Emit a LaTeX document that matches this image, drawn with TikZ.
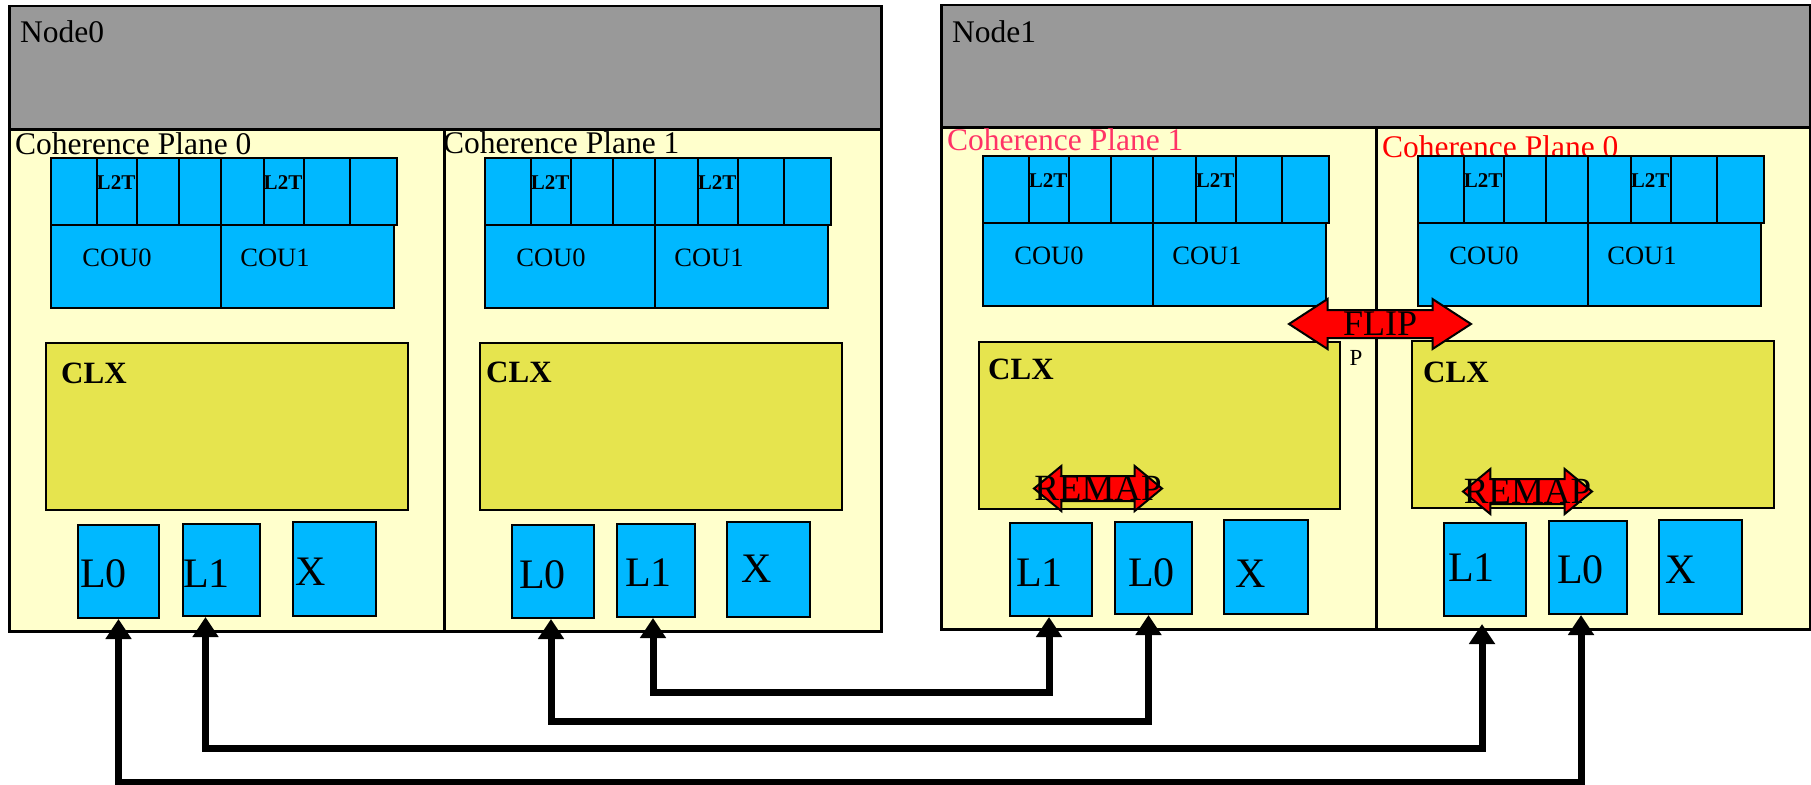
\documentclass[tikz,border=0pt]{standalone}
\usepackage{xcolor}
\usepackage{fontspec}
\setmainfont{Liberation Serif}
\usepackage{tikz}
\usetikzlibrary{shapes,arrows.meta,positioning}

\definecolor{headgray}{RGB}{153,153,153}
\definecolor{planeyellow}{RGB}{255,255,204}
\definecolor{cublue}{RGB}{0,184,255}
\definecolor{clxyellow}{RGB}{230,228,78}
\definecolor{planepink}{RGB}{255,51,102}

\tikzset{
  wh/.style 2 args={minimum width=#1pt, minimum height=#2pt},
  headbox/.style={draw, fill=headgray, line width=2.5pt, anchor=north west, inner sep=0pt},
  planebox/.style={draw, fill=planeyellow, line width=2.5pt, anchor=north west, inner sep=0pt},
  cellbox/.style={draw, fill=cublue, line width=2pt, anchor=north west, inner sep=0pt},
  clxbox/.style={draw, fill=clxyellow, line width=2pt, anchor=north west, inner sep=0pt},
  title/.style={anchor=base west, inner sep=0pt, font=\fontsize{31.5}{36}\selectfont},
  clxtext/.style={anchor=base west, inner sep=0pt, font=\fontsize{31}{36}\selectfont\bfseries},
  coutext/.style={inner sep=0pt, font=\fontsize{26.5}{30}\selectfont},
  l2ttext/.style={inner sep=0pt, font=\fontsize{21}{24}\selectfont\bfseries},
  porttext/.style={anchor=base west, inner sep=0pt, font=\fontsize{42}{48}\selectfont},
  swaparrow/.style={double arrow, draw, fill=red, line width=2pt, inner xsep=0pt},
  link/.style={line width=7pt, {Triangle[length=20pt,width=25pt]}-{Triangle[length=20pt,width=25pt]}}
}

\begin{document}
\begin{tikzpicture}[x=1pt, y=-1pt]
\useasboundingbox (0,0) rectangle (1811,784);

% Nodes
\node[headbox, wh={872}{123}] (n0head) at (8,5) {};
\node[planebox, wh={435}{502}] (n0p0) at (8,128) {};
\node[planebox, wh={437}{502}] (n0p1) at (443,128) {};
\node[title] (n0name) at (20,43) {Node0};
\node[title] (n0p0name) at (15,154) {Coherence Plane 0};
\node[title] (n0p1name) at (443,153) {Coherence Plane 1};

\node[headbox, wh={869}{122}] (n1head) at (940,4) {};
\node[planebox, wh={435}{502}] (n1p1) at (940,126) {};
\node[planebox, wh={434}{502}] (n1p0) at (1375,126) {};
\node[title] (n1name) at (952,42) {Node1};
\node[title, text=planepink] (n1p1name) at (947,150) {Coherence Plane 1};
\node[title, text=red] (n1p0name) at (1382,157) {Coherence Plane 0};

% L2T cells and COU units
\foreach \nm/\x/\y in {n0p0/50/157, n0p1/484/157, n1p1/982/155, n1p0/1417/155} {
  \foreach \i/\a/\b in {1/0/46, 2/46/86, 3/86/128, 4/128/170, 5/170/213, 6/213/253, 7/253/299, 8/299/346}
    \node[cellbox, minimum width={(\b-\a)*1pt}, minimum height=67pt] (\nm c\i) at ({\x+\a},\y) {};
  \node[cellbox, wh={170}{83}] (\nm cou0) at (\x,{\y+67}) {};
  \node[cellbox, wh={173}{83}] (\nm cou1) at ({\x+170},{\y+67}) {};
  \node[l2ttext] (\nm l2ta) at ({\x+66},{\y+26}) {L2T};
  \node[l2ttext] (\nm l2tb) at ({\x+233},{\y+26}) {L2T};
  \node[coutext] (\nm cou0t) at ({\x+67},{\y+101}) {COU0};
  \node[coutext] (\nm cou1t) at ({\x+225},{\y+101}) {COU1};
}

% CLX
\node[clxbox, wh={362}{167}] (n0p0clx) at (45,342) {};
\node[clxbox, wh={362}{167}] (n0p1clx) at (479,342) {};
\node[clxbox, wh={361}{167}] (n1p1clx) at (978,341) {};
\node[clxbox, wh={362}{167}] (n1p0clx) at (1411,340) {};
\node[clxtext] (n0p0clxt) at (61,383) {CLX};
\node[clxtext] (n0p1clxt) at (486,382) {CLX};
\node[clxtext] (n1p1clxt) at (988,379) {CLX};
\node[clxtext] (n1p0clxt) at (1423,382) {CLX};

% Ports
\node[cellbox, wh={81}{93}] (n0p0L0) at (77,524) {};
\node[cellbox, wh={77}{92}] (n0p0L1) at (182,523) {};
\node[cellbox, wh={83}{94}] (n0p0X) at (292,521) {};
\node[cellbox, wh={82}{93}] (n0p1L0) at (511,524) {};
\node[cellbox, wh={78}{93}] (n0p1L1) at (616,523) {};
\node[cellbox, wh={83}{95}] (n0p1X) at (726,521) {};
\node[cellbox, wh={82}{93}] (n1p1L1) at (1009,522) {};
\node[cellbox, wh={77}{92}] (n1p1L0) at (1114,521) {};
\node[cellbox, wh={84}{94}] (n1p1X) at (1223,519) {};
\node[cellbox, wh={82}{93}] (n1p0L1) at (1443,522) {};
\node[cellbox, wh={78}{93}] (n1p0L0) at (1548,520) {};
\node[cellbox, wh={83}{94}] (n1p0X) at (1658,519) {};

\node[porttext] (n0p0L0t) at (80,587) {L0};
\node[porttext] (n0p0L1t) at (183,587) {L1};
\node[porttext] (n0p0Xt) at (295,585) {X};
\node[porttext] (n0p1L0t) at (519,588) {L0};
\node[porttext] (n0p1L1t) at (625,586) {L1};
\node[porttext] (n0p1Xt) at (741,582) {X};
\node[porttext] (n1p1L1t) at (1016,586) {L1};
\node[porttext] (n1p1L0t) at (1128,586) {L0};
\node[porttext] (n1p1Xt) at (1235,587) {X};
\node[porttext] (n1p0L1t) at (1448,581) {L1};
\node[porttext] (n1p0L0t) at (1557,583) {L0};
\node[porttext] (n1p0Xt) at (1665,583) {X};

% Remap / flip
\node[swaparrow, minimum height=128pt, minimum width=43pt, inner ysep=11.5pt,
  double arrow head extend=10pt, double arrow tip angle=79] (n1p1remap) at (1098,488.5) {};
\node[font=\fontsize{37}{42}\selectfont, inner sep=0pt] (n1p1remapt) at (n1p1remap.center) {REMAP};
\node[swaparrow, minimum height=129pt, minimum width=43pt, inner ysep=11.5pt,
  double arrow head extend=10pt, double arrow tip angle=79] (n1p0remap) at (1527.5,491.5) {};
\node[font=\fontsize{37}{42}\selectfont, inner sep=0pt] (n1p0remapt) at (n1p0remap.center) {REMAP};
\node[swaparrow, minimum height=182pt, minimum width=48pt, inner ysep=13pt,
  double arrow head extend=11pt, double arrow tip angle=66] (flip) at (1380,324) {};
\node[font=\fontsize{36}{40}\selectfont, inner sep=0pt] (flipt) at (flip.center) {FLIP};
\node[font=\fontsize{23}{26}\selectfont, anchor=base, inner sep=0pt] (flipp) at (1356,365) {P};

% Links between nodes
\draw[link] (n0p0L0.south) -- ++(0,163) -| ([xshift=-7pt]n1p0L0.south);
\draw[link, shorten >=7pt] ([xshift=-16pt]n0p0L1.south) -- ++(0,131) -| ([xshift=-3pt]n1p0L1.south);
\draw[link] ([xshift=-2pt]n0p1L0.south) -- ++(0,102) -| ([xshift=-5pt]n1p1L0.south);
\draw[link] ([xshift=-3pt]n0p1L1.south) -- ++(0,74) -| ([xshift=-2pt]n1p1L1.south);

\end{tikzpicture}
\end{document}
